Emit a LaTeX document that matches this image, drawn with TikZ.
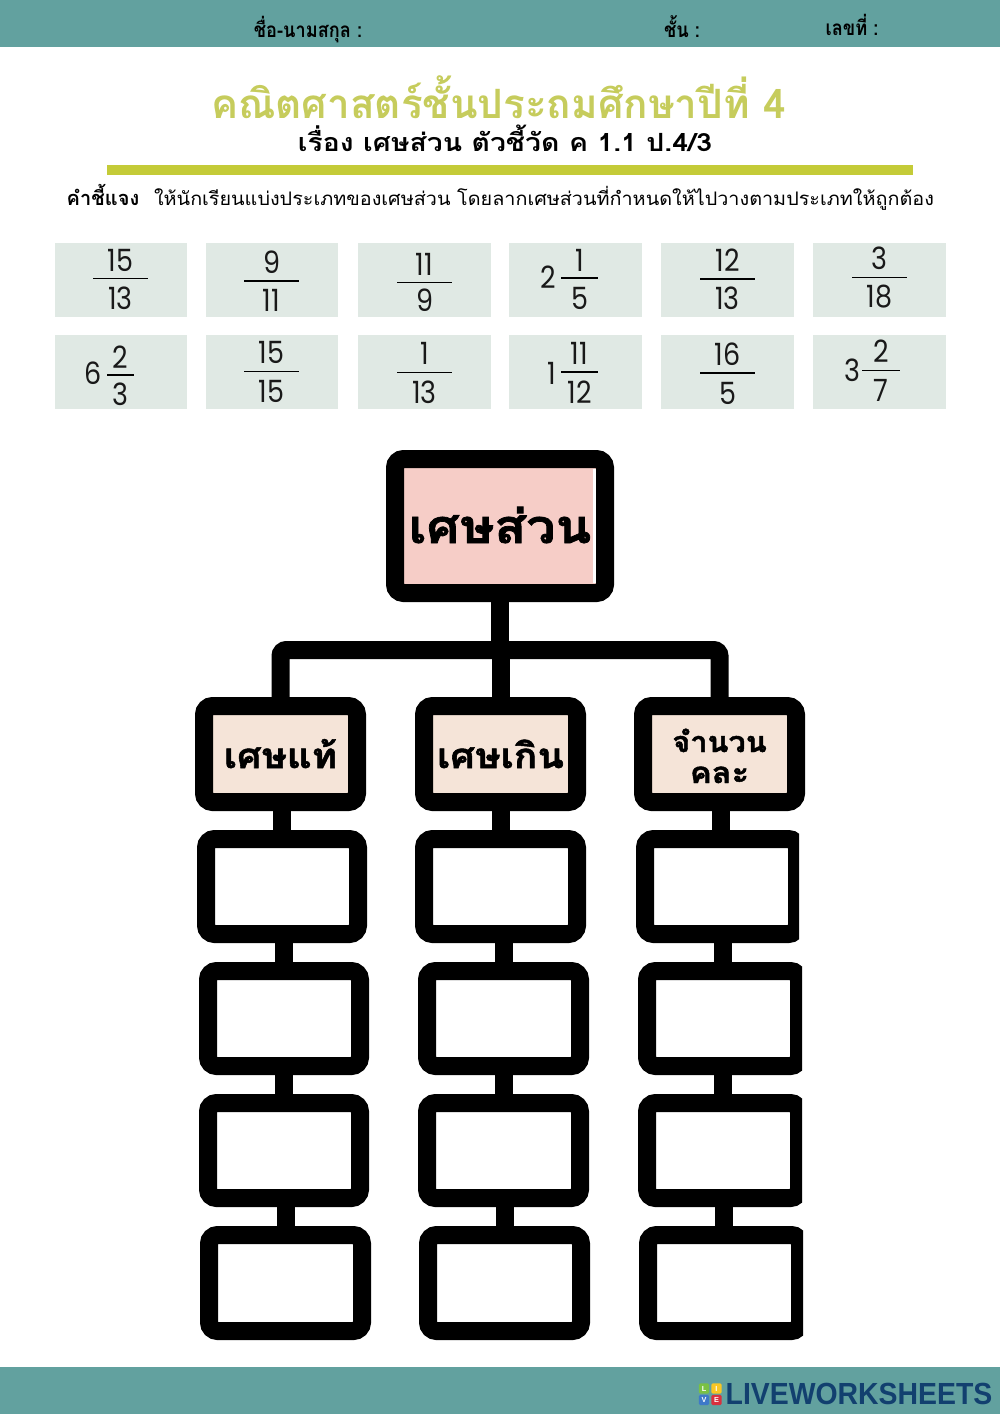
\documentclass[tikz,border=0pt]{standalone}
\usepackage{fontspec}
\setmainfont[Script=Thai]{Loma}
\newfontfamily\heavy[Script=Thai,BoldFeatures={FakeBold=1.5}]{Loma}
\newfontfamily\numf{Poppins}
\newfontfamily\logof{Liberation Sans}
\definecolor{teal1}{HTML}{62A19F}
\definecolor{olive1}{HTML}{C6CC5C}
\definecolor{olive2}{HTML}{C4CB38}
\definecolor{card}{HTML}{E0E9E4}
\definecolor{pinkbox}{HTML}{F6CDC7}
\definecolor{peach}{HTML}{F5E4D8}
\definecolor{logoblue}{HTML}{12406F}
\newcommand{\fs}[1]{\fontsize{#1}{#1}\selectfont}
\tikzset{
  x=0.75pt,y=-0.75pt,
  band/.style={fill=teal1,draw=none},
  txt/.style={inner sep=0pt,outer sep=0pt,anchor=base},
  cardbox/.style={fill=card,draw=none},
  bx/.style={draw=black,line width=13.5pt,rounded corners=6.5pt,inner sep=0pt,outer sep=0pt,text height=0pt,text depth=0pt},
  link/.style={draw=black,line width=13.5pt},
  frule/.style={draw=black,line width=1.2pt},
  digit/.style={inner sep=0pt,outer sep=0pt,anchor=center,font=\numf\fs{23},text=black!90},
  lg/.style={inner sep=0pt,minimum size=7.6pt,rounded corners=1pt,text=white,font=\logof\bfseries\fs{5.5}},
}
% outer extents: name x0 y0 x1 y1 fill text
\newcommand{\bxn}[7]{\node[bx,fill=#6,minimum width={(#4-#2-18)*0.75pt},minimum height={(#5-#3-18)*0.75pt}] (#1) at ({(#2+#4)/2},{(#3+#5)/2}) {#7};}
% label centred on the box, baseline lowered by #1 pt, widened by #4
\newcommand{\lab}[4]{\makebox[0pt]{\raisebox{#1}{\scalebox{#4}[1]{\heavy\fs{#2}\bfseries #3}}}}
\newcommand{\dg}[1]{\scalebox{0.88}[1]{#1}}
% fraction: name, x0,x1 of rule, y of rule, num, y num, den, y den
\newcommand{\frc}[8]{%
  \node[digit] (#1n) at ({(#2+#3)/2},#6) {\dg{#5}};
  \node[digit] (#1d) at ({(#2+#3)/2},#8) {\dg{#7}};
  \draw[frule] (#2,#4) -- (#3,#4);}
\newcommand{\crd}[3]{\fill[cardbox] (#1,#2) rectangle (#3,{#2+74});}
\begin{document}
\begin{tikzpicture}
\useasboundingbox (0,0) rectangle (1000,1414);
\fill[white] (0,0) rectangle (1000,1414);
\fill[band] (0,0) rectangle (1000,47);
\fill[band] (0,1367) rectangle (1000,1414);
\node[txt] (h1) at (308,37) {\scalebox{0.88}[1]{\fs{15.5}\bfseries ชื่อ-นามสกุล :}};
\node[txt] (h2) at (682,37) {\scalebox{0.88}[1]{\fs{15.5}\bfseries ชั้น :}};
\node[txt] (h3) at (852,35) {\scalebox{0.88}[1]{\fs{15.5}\bfseries เลขที่ :}};
\node[txt,text=olive1] (title) at (498.5,118) {\fs{30.3}\bfseries คณิตศาสตร์ชั้นประถมศึกษาปีที่ 4};
\node[txt] (sub) at (505,151) {\scalebox{1.13}[1]{\fs{18.8}\bfseries เรื่อง เศษส่วน ตัวชี้วัด ค 1.1 ป.4/3}};
\fill[olive2] (107,165) rectangle (913,175);
\node[txt] (ins1) at (103,205) {\fs{15}\bfseries คำชี้แจง};
\node[txt] (ins2) at (544,205) {\scalebox{1.06}[1]{\fs{14}ให้นักเรียนแบ่งประเภทของเศษส่วน โดยลากเศษส่วนที่กำหนดให้ไปวางตามประเภทให้ถูกต้อง}};
% cards
\crd{55}{243}{187}\crd{206}{243}{338}\crd{358}{243}{491}\crd{509}{243}{642}\crd{661}{243}{794}\crd{813}{243}{946}
\crd{55}{335}{187}\crd{206}{335}{338}\crd{358}{335}{491}\crd{509}{335}{642}\crd{661}{335}{794}\crd{813}{335}{946}
\frc{a}{93}{148}{278.5}{15}{260}{13}{298}
\frc{b}{244}{299}{281}{9}{262}{11}{300}
\frc{c}{397}{452}{282.5}{11}{264}{9}{300}
\frc{d}{561}{598}{278}{1}{260}{5}{298}
\node[digit] (dw) at (548,277) {\dg{2}};
\frc{e}{700}{755}{279}{12}{260}{13}{298}
\frc{f}{852}{907}{277.5}{3}{258}{18}{297}
\frc{g}{107}{134}{375}{2}{357}{3}{394}
\node[digit] (gw) at (93,373) {\dg{6}};
\frc{h}{244}{299}{371.5}{15}{352}{15}{391}
\frc{i}{397}{452}{372.5}{1}{353}{13}{392}
\frc{j}{561}{598}{372}{11}{353}{12}{392}
\node[digit] (jw) at (552,373) {\dg{1}};
\frc{k}{700}{755}{373}{16}{354}{5}{393}
\frc{l}{862}{900}{370.5}{2}{351}{7}{390}
\node[digit] (lw) at (852,370) {\dg{3}};
% tree
\bxn{root}{386}{450}{614}{602}{pinkbox}{\lab{-12.75pt}{35}{เศษส่วน}{1.12}}
\fill[white] (593.3,469) rectangle (595.6,583);
\bxn{ha}{195}{697}{366}{811}{peach}{\lab{-10.5pt}{26}{เศษแท้}{1.11}}
\bxn{hb}{415}{697}{586}{811}{peach}{\lab{-10.5pt}{26}{เศษเกิน}{1.12}}
\bxn{hc}{634}{697}{805}{811}{peach}{\lab{1.5pt}{21.5}{จำนวน}{1.07}\lab{-21.75pt}{22}{คละ}{1.11}}
\bxn{a1}{197}{830}{367}{943}{white}{}
\bxn{a2}{199}{962}{369}{1075}{white}{}
\bxn{a3}{199}{1094}{369}{1207}{white}{}
\bxn{a4}{200}{1226}{371}{1340}{white}{}
\bxn{b1}{415}{830}{586}{943}{white}{}
\bxn{b2}{418}{962}{589}{1075}{white}{}
\bxn{b3}{418}{1094}{589}{1207}{white}{}
\bxn{b4}{419}{1226}{590}{1340}{white}{}
\begin{scope}\clip (600,800) rectangle (799,960);\bxn{c1}{636}{830}{806}{943}{white}{}\end{scope}
\begin{scope}\clip (600,950) rectangle (802,1085);\bxn{c2}{638}{962}{808}{1075}{white}{}\end{scope}
\begin{scope}\clip (600,1085) rectangle (802,1215);\bxn{c3}{638}{1094}{808}{1207}{white}{}\end{scope}
\begin{scope}\clip (600,1215) rectangle (803,1345);\bxn{c4}{639}{1226}{809}{1340}{white}{}\end{scope}
\coordinate (bus) at (500,650);
\draw[link] (root.south) -- (root.south |- bus);
\draw[link,rounded corners=4.5pt] (ha.north) -- (ha.north |- bus) -- (hc.north |- bus) -- (hc.north);
\draw[link] (hb.north |- bus) -- (hb.north);
\foreach \p/\q in {ha/a1,a1/a2,a2/a3,a3/a4,hb/b1,b1/b2,b2/b3,b3/b4,hc/c1,c1/c2,c2/c3,c3/c4}{
  \draw[link] (\q.north |- \p.south) -- (\q.north);
}
% logo
\node[lg,fill={rgb,255:red,122;green,193;blue,67}] (l1) at (704,1388.5) {L};
\node[lg,fill={rgb,255:red,249;green,198;blue,35}] (l2) at (716.5,1388.5) {I};
\node[lg,fill={rgb,255:red,62;green,121;blue,200}] (l3) at (704,1400) {V};
\node[lg,fill={rgb,255:red,217;green,48;blue,62}] (l4) at (716.5,1400) {E};
\node[txt,text=logoblue] (logo) at (859,1404) {\resizebox{200pt}{16pt}{\logof\bfseries LIVEWORKSHEETS}};
\end{tikzpicture}
\end{document}
